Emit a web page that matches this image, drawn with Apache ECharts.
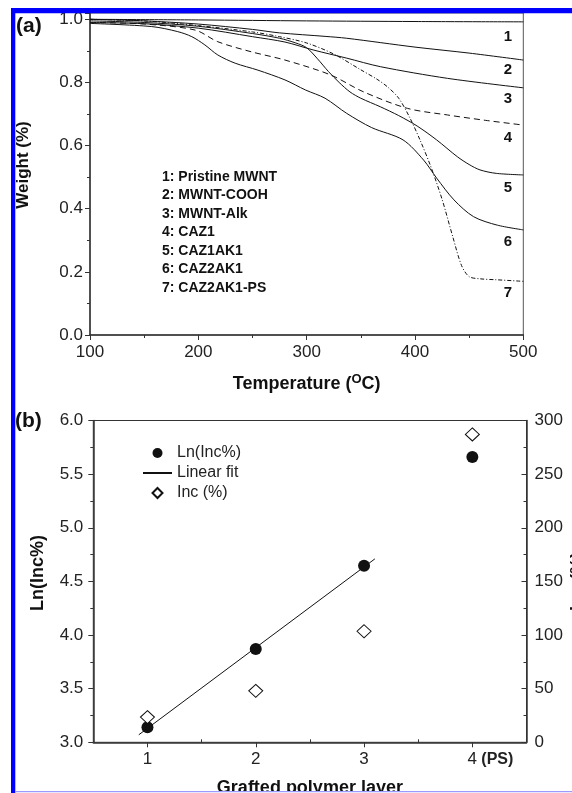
<!DOCTYPE html>
<html><head><meta charset="utf-8">
<script src="https://cdn.jsdelivr.net/npm/echarts@6/dist/echarts.min.js"></script>
<style>html,body{margin:0;padding:0;background:#fff}#c{width:572px;height:793px}</style>
</head><body><div id="c"></div>
<script>
// ---------- Panel (a): TGA curves ----------
const tPristine = [100, 200, 300, 400, 500];
const wPristine = [1.0, 0.998, 0.995, 0.993, 0.992];

const tCOOH = [100, 150, 200, 250, 275, 317, 337, 400, 450, 500];
const wCOOH = [1.0, 0.995, 0.985, 0.968, 0.957, 0.946, 0.94, 0.912, 0.893, 0.871];

const tAlk = [100, 150, 200, 250, 280, 306, 337, 368, 430, 500];
const wAlk = [0.99, 0.986, 0.972, 0.945, 0.928, 0.903, 0.877, 0.85, 0.813, 0.783];

const tCAZ1 = [100, 150, 197, 218, 249, 280, 322, 352, 393, 430, 465, 500];
const wCAZ1 = [0.99, 0.985, 0.966, 0.929, 0.897, 0.871, 0.824, 0.771, 0.718, 0.697, 0.68, 0.665];

const tCAZ1AK1 = [100, 150, 200, 250, 275, 290, 300, 310, 320, 330, 340, 350, 368, 385, 402, 420, 439, 450, 460, 475, 500];
const wCAZ1AK1 = [0.995, 0.99, 0.978, 0.955, 0.94, 0.925, 0.91, 0.875, 0.835, 0.8, 0.77, 0.75, 0.723, 0.695, 0.662, 0.618, 0.565, 0.54, 0.523, 0.512, 0.507];

const tCAZ2AK1 = [100, 157, 181, 194, 206, 218, 234, 255, 280, 299, 317, 337, 360, 389, 408, 420, 436, 454, 476, 500];
const wCAZ2AK1 = [0.987, 0.977, 0.961, 0.945, 0.919, 0.887, 0.861, 0.839, 0.808, 0.776, 0.75, 0.702, 0.657, 0.618, 0.554, 0.497, 0.428, 0.375, 0.348, 0.333];

const tPS = [100, 150, 200, 250, 275, 300, 325, 350, 365, 375, 385, 395, 405, 415, 425, 435, 443, 450, 460, 475, 500];
const wPS = [1.0, 0.995, 0.98, 0.96, 0.945, 0.925, 0.89, 0.84, 0.81, 0.785, 0.75, 0.69, 0.615, 0.53, 0.43, 0.31, 0.22, 0.185, 0.178, 0.175, 0.17];

const legendLinesA = ['1: Pristine MWNT', '2: MWNT-COOH', '3: MWNT-Alk', '4: CAZ1', '5: CAZ1AK1', '6: CAZ2AK1', '7: CAZ2AK1-PS'];
const curveNumbers = ['1', '2', '3', '4', '5', '6', '7'];

// ---------- Panel (b) ----------
const layers = [1, 2, 3, 4];
const lnInc = [3.14, 3.87, 4.645, 5.66];
const incPct = [23.5, 48, 103.5, 287];
const fitX = [0.92, 3.1];
const fitY = [3.07, 4.71];
const layerTickLabels = ['1', '2', '3', '4 (PS)'];
const layerMinorTicks = [1.5, 2.5, 3.5];

const FONT = '"Liberation Sans", Arial, Helvetica, sans-serif';
const zip = (a, b) => a.map((v, i) => [v, b[i]]);

function tga(name, t, w, type) {
  return {
    name, type: 'line', xAxisIndex: 0, yAxisIndex: 0,
    data: zip(t, w), showSymbol: false, symbol: 'none',
    smooth: 0.3,
    lineStyle: { color: '#111', width: 1, type: type || 'solid' },
    silent: true, z: 3
  };
}

const axisLineStyle = { color: '#333', width: 1.5 };
const labelStyle = { fontFamily: FONT, fontSize: 17, color: '#222' };

const chart = echarts.init(document.getElementById('c'), null, { renderer: 'canvas' });

const graphics = [];
legendLinesA.forEach((s, i) => {
  graphics.push({ type: 'text', x: 162, y: 177 + i * 18.5, z: 50,
    style: { text: s, font: 'bold 14px ' + FONT, fill: '#111', textVerticalAlign: 'middle' } });
});
const numY = [37, 70, 99, 138, 188, 242, 293];
curveNumbers.forEach((s, i) => {
  graphics.push({ type: 'text', x: 508, y: numY[i], z: 50,
    style: { text: s, font: 'bold 15px ' + FONT, fill: '#111', textAlign: 'center', textVerticalAlign: 'middle' } });
});
graphics.push({ type: 'text', x: 16, y: 26, z: 50,
  style: { text: '(a)', font: 'bold 21px ' + FONT, fill: '#111', textVerticalAlign: 'middle' } });
graphics.push({ type: 'text', x: 15, y: 421, z: 50,
  style: { text: '(b)', font: 'bold 21px ' + FONT, fill: '#111', textVerticalAlign: 'middle' } });
// page frame (blue border of the figure)
graphics.push({ type: 'rect', shape: { x: 11, y: 8, width: 4.3, height: 785 }, style: { fill: '#0000ff' }, z: 100 });
graphics.push({ type: 'rect', shape: { x: 11, y: 8, width: 561, height: 5.3 }, style: { fill: '#0000ff' }, z: 100 });
graphics.push({ type: 'rect', shape: { x: 15, y: 792, width: 557, height: 1 }, style: { fill: '#ffffff' }, z: 99 });
graphics.push({ type: 'rect', shape: { x: 15, y: 791, width: 557, height: 1.2 }, style: { fill: '#9a9aff' }, z: 100 });

const option = {
  animation: false,
  backgroundColor: '#fff',
  textStyle: { fontFamily: FONT },
  grid: [
    { left: 90, top: 13, width: 433.3, height: 322, show: true, borderColor: '#555', borderWidth: 1, backgroundColor: 'transparent', containLabel: false, outerBoundsMode: 'none' },
    { left: 93.3, top: 420.5, width: 433.2, height: 321.8, show: true, borderColor: '#333', borderWidth: 1, backgroundColor: 'transparent', containLabel: false, outerBoundsMode: 'none' }
  ],
  xAxis: [
    {
      type: 'value', gridIndex: 0, min: 100, max: 500, interval: 100,
      axisLine: { show: true, onZero: false, lineStyle: axisLineStyle },
      axisTick: { show: true, length: 5, lineStyle: { color: '#333' } },
      minorTick: { show: true, splitNumber: 2, length: 3, lineStyle: { color: '#333' } },
      splitLine: { show: false },
      axisLabel: Object.assign({ margin: 9 }, labelStyle),
      name: '{t|Temperature (}{s|O}{t|C)}',
      nameLocation: 'middle', nameGap: 38,
      nameTextStyle: {
        rich: {
          t: { fontFamily: FONT, fontSize: 18, fontWeight: 'bold', color: '#111', lineHeight: 22 },
          s: { fontFamily: FONT, fontSize: 13, fontWeight: 'bold', color: '#111', lineHeight: 13, verticalAlign: 'top' }
        }
      }
    },
    {
      type: 'value', gridIndex: 1, min: 0.5, max: 4.5,
      axisLine: { show: true, onZero: false, lineStyle: axisLineStyle },
      axisTick: { show: true, length: 5, customValues: layers, lineStyle: { color: '#333' } },
      splitLine: { show: false },
      axisLabel: Object.assign({
        margin: 9, customValues: layers,
        formatter: v => {
          const i = layers.indexOf(v);
          const s = i >= 0 ? layerTickLabels[i] : '';
          if (s.indexOf(' ') > 0) {
            const p = s.split(' ');
            return '{pad|}{n|' + p[0] + '}{b| ' + p[1] + '}';
          }
          return '{n|' + s + '}';
        },
        rich: {
          n: { fontFamily: FONT, fontSize: 17, color: '#222' },
          b: { fontFamily: FONT, fontSize: 16, fontWeight: 'bold', color: '#222' },
          pad: { width: 36 }
        }
      }, labelStyle),
      name: 'Grafted polymer layer', nameLocation: 'middle', nameGap: 37,
      nameTextStyle: { fontFamily: FONT, fontSize: 18, fontWeight: 'bold', color: '#111' }
    },
    {
      type: 'value', gridIndex: 1, min: 0.5, max: 4.5,
      axisLine: { show: false },
      axisTick: { show: true, length: 3, customValues: layerMinorTicks, lineStyle: { color: '#333' } },
      axisLabel: { show: false }, splitLine: { show: false }
    }
  ],
  yAxis: [
    {
      type: 'value', gridIndex: 0, min: 0, max: 1.02, interval: 0.2,
      axisLine: { show: true, onZero: false, lineStyle: axisLineStyle },
      axisTick: { show: true, length: 5, lineStyle: { color: '#333' } },
      minorTick: { show: true, splitNumber: 2, length: 3, lineStyle: { color: '#333' } },
      splitLine: { show: false },
      axisLabel: Object.assign({ margin: 7, showMaxLabel: false, formatter: v => (Math.abs(v - Math.round(v * 5) / 5) < 1e-6 ? v.toFixed(1) : '') }, labelStyle),
      name: 'Weight (%)', nameLocation: 'middle', nameGap: 58,
      nameTextStyle: { fontFamily: FONT, fontSize: 17, fontWeight: 'bold', color: '#111', padding: [0, 0, 0, 18] }
    },
    {
      type: 'value', gridIndex: 1, min: 3, max: 6, interval: 0.5, position: 'left',
      axisLine: { show: true, onZero: false, lineStyle: axisLineStyle },
      axisTick: { show: true, length: 5, lineStyle: { color: '#333' } },
      minorTick: { show: true, splitNumber: 2, length: 3, lineStyle: { color: '#333' } },
      splitLine: { show: false },
      axisLabel: Object.assign({ margin: 10, formatter: v => v.toFixed(1) }, labelStyle),
      name: 'Ln(Inc%)', nameLocation: 'middle', nameGap: 46,
      nameTextStyle: { fontFamily: FONT, fontSize: 18, fontWeight: 'bold', color: '#111', padding: [0, 0, 0, 17] }
    },
    {
      type: 'value', gridIndex: 1, min: 0, max: 300, interval: 50, position: 'right',
      axisLine: { show: true, onZero: false, lineStyle: axisLineStyle },
      axisTick: { show: true, inside: true, length: 5, lineStyle: { color: '#333' } },
      minorTick: { show: true, splitNumber: 2, length: 3, lineStyle: { color: '#333' } },
      splitLine: { show: false },
      axisLabel: Object.assign({ margin: 8 }, labelStyle),
      name: 'Inc (%)', nameLocation: 'middle', nameGap: 42.5, nameMoveOverlap: false,
      nameTextStyle: { fontFamily: FONT, fontSize: 18, fontWeight: 'bold', color: '#111' }
    }
  ],
  legend: {
    orient: 'vertical', left: 137, top: 440, itemWidth: 29, itemHeight: 10, itemGap: 4,
    textStyle: { fontFamily: FONT, fontSize: 16, color: '#222' },
    data: [
      { name: 'Ln(Inc%)', icon: 'circle' },
      { name: 'Linear fit', itemStyle: { color: 'rgba(0,0,0,0)', borderWidth: 0, opacity: 0 } },
      { name: 'Inc (%)', icon: 'path://M5,0L10,5L5,10L0,5Z' }
    ],
    symbolKeepAspect: true,
    selectedMode: false
  },
  series: [
    tga('Pristine MWNT', tPristine, wPristine),
    tga('MWNT-COOH', tCOOH, wCOOH),
    tga('MWNT-Alk', tAlk, wAlk),
    tga('CAZ1', tCAZ1, wCAZ1, [6, 4]),
    tga('CAZ1AK1', tCAZ1AK1, wCAZ1AK1),
    tga('CAZ2AK1', tCAZ2AK1, wCAZ2AK1),
    tga('CAZ2AK1-PS', tPS, wPS, [4, 2, 1, 2]),
    {
      name: 'Ln(Inc%)', type: 'scatter', xAxisIndex: 1, yAxisIndex: 1,
      data: zip(layers, lnInc), symbol: 'circle', symbolSize: 12,
      itemStyle: { color: '#111', opacity: 1 }, z: 5
    },
    {
      name: 'Linear fit', type: 'line', xAxisIndex: 1, yAxisIndex: 1,
      data: zip(fitX, fitY), showSymbol: false, symbol: 'none',
      lineStyle: { color: '#111', width: 1 }, itemStyle: { color: '#111' }, z: 4
    },
    {
      name: 'Inc (%)', type: 'scatter', xAxisIndex: 1, yAxisIndex: 2,
      data: zip(layers, incPct), symbol: 'diamond', symbolSize: [14, 13],
      itemStyle: { color: '#fff', borderColor: '#111', borderWidth: 1, opacity: 1 }, z: 5
    }
  ],
  graphic: graphics
};
chart.setOption(option);
</script>
</body></html>
